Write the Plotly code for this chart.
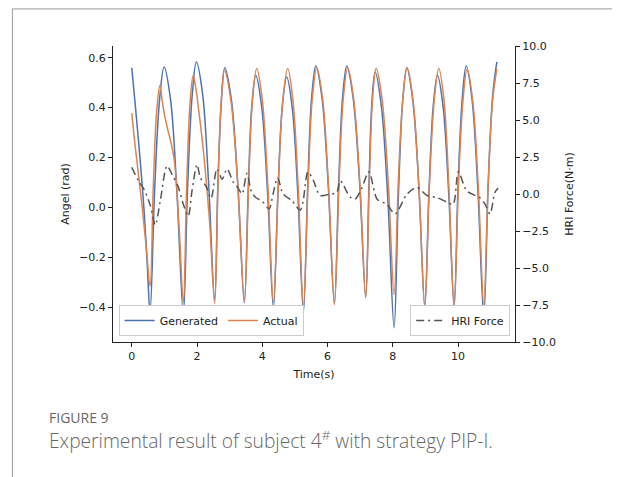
import plotly.graph_objects as go

# ---------------- data ----------------
gen_t = [0.00, 0.10, 0.25, 0.37, 0.47, 0.56,
         0.70, 0.85, 0.99, 1.19, 1.38, 1.58,
         1.71, 1.85, 1.98, 2.17, 2.35, 2.54,
         2.64, 2.75, 2.85, 3.05, 3.25, 3.45,
         3.57, 3.68, 3.80, 3.98, 4.16, 4.34,
         4.48, 4.61, 4.75, 4.92, 5.09, 5.26,
         5.39, 5.51, 5.64, 5.83, 6.02, 6.21,
         6.34, 6.46, 6.59, 6.78, 6.98, 7.17,
         7.27, 7.36, 7.46, 7.65, 7.85, 8.04,
         8.17, 8.30, 8.43, 8.61, 8.80, 8.98,
         9.11, 9.24, 9.37, 9.54, 9.71, 9.88,
         10.00, 10.13, 10.25, 10.43, 10.61, 10.79,
         10.92, 11.06, 11.19]
gen_v = [0.56, 0.42, 0.20, 0.00, -0.22, -0.42,
         0.07, 0.43, 0.563, 0.43, 0.068, -0.427,
         0.078, 0.448, 0.583, 0.455, 0.107, -0.37,
         0.095, 0.435, 0.56, 0.434, 0.089, -0.383,
         0.074, 0.408, 0.53, 0.405, 0.064, -0.403,
         0.06, 0.399, 0.523, 0.397, 0.052, -0.42,
         0.074, 0.435, 0.567, 0.439, 0.091, -0.385,
         0.091, 0.439, 0.567, 0.443, 0.104, -0.36,
         0.092, 0.422, 0.543, 0.405, 0.03, -0.483,
         0.039, 0.42, 0.56, 0.432, 0.083, -0.395,
         0.068, 0.406, 0.53, 0.406, 0.067, -0.397,
         0.085, 0.438, 0.567, 0.432, 0.065, -0.437,
         0.073, 0.446, 0.583]

act_t = [0.00, 0.10, 0.32, 0.45, 0.56,
         0.66, 0.76, 0.86, 0.93, 0.99, 1.07, 1.29, 1.45, 1.58,
         1.68, 1.78, 1.88, 1.96, 2.07, 2.20, 2.38, 2.54,
         2.64, 2.74, 2.84, 3.04, 3.25, 3.45,
         3.58, 3.70, 3.83, 4.00, 4.17, 4.34,
         4.49, 4.63, 4.78, 4.94, 5.10, 5.26,
         5.40, 5.53, 5.67, 5.85, 6.03, 6.21,
         6.35, 6.48, 6.62, 6.80, 6.99, 7.17,
         7.28, 7.38, 7.49, 7.67, 7.86, 8.04,
         8.17, 8.31, 8.44, 8.62, 8.80, 8.98,
         9.12, 9.27, 9.41, 9.57, 9.72, 9.88,
         10.01, 10.15, 10.28, 10.45, 10.62, 10.79,
         10.92, 11.06, 11.19]
act_v = [0.378, 0.25, 0.00, -0.17, -0.317,
         0.087, 0.382, 0.49, 0.43, 0.38, 0.33, 0.20, -0.08, -0.383,
         0.074, 0.408, 0.53, 0.48, 0.37, 0.22, -0.05, -0.387,
         0.081, 0.424, 0.55, 0.426, 0.088, -0.374,
         0.092, 0.432, 0.557, 0.431, 0.087, -0.383,
         0.087, 0.431, 0.557, 0.429, 0.08, -0.397,
         0.082, 0.432, 0.56, 0.433, 0.085, -0.39,
         0.085, 0.433, 0.56, 0.436, 0.099, -0.363,
         0.098, 0.435, 0.558, 0.436, 0.104, -0.35,
         0.105, 0.438, 0.56, 0.431, 0.08, -0.40,
         0.079, 0.429, 0.557, 0.429, 0.08, -0.397,
         0.079, 0.427, 0.554, 0.428, 0.082, -0.39,
         0.083, 0.428, 0.555]

hri_t = [0.00, 0.20, 0.38, 0.57, 0.72, 0.87, 1.08, 1.24, 1.42, 1.58,
         1.73, 1.85, 2.00, 2.10, 2.28, 2.43, 2.61, 2.77, 2.92, 3.11,
         3.26, 3.38, 3.53, 3.66, 3.78, 4.00, 4.21, 4.33, 4.47, 4.64,
         4.91, 5.16, 5.25, 5.40, 5.57, 5.77, 6.08, 6.28, 6.39, 6.69,
         6.84, 7.03, 7.27, 7.52, 7.82, 8.07, 8.44, 8.74, 9.05, 9.36,
         9.66, 9.85, 10.01, 10.27, 10.67, 10.83, 10.98, 11.13, 11.23]
hri_f = [1.8, 0.9, 0.3, -0.8, -2.1, -0.5, 1.9, 1.3, 0.5, -0.7,
         -1.5, 0.3, 2.0, 1.1, 0.5, -0.3, 1.7, 1.0, 1.7, 0.8,
         0.4, 0.0, 1.4, 0.2, -0.2, -0.5, -1.0, 0.0, 1.1, 0.0,
         -0.45, -1.1, -0.5, 1.5, 0.9, -0.1, 0.0, 0.1, 0.9, -0.2,
         -0.35, 0.3, 1.5, -0.35, -0.7, -1.35, 0.0, 0.45, -0.1, -0.25,
         -0.55, -0.7, 1.5, 0.2, -0.25, -0.7, -1.35, 0.1, 0.4]

x_ticks = [0, 2, 4, 6, 8, 10]
left_ticks = [-0.4, -0.2, 0.0, 0.2, 0.4, 0.6]
right_ticks = [-10, -7.5, -5, -2.5, 0, 2.5, 5, 7.5, 10]

BLUE = "#4C72B0"
ORANGE = "#DD8452"
GRAY = "#555555"
INK = "#222222"

fig = go.Figure()
fig.add_trace(go.Scatter(x=gen_t, y=gen_v, name="Generated", mode="lines",
                         line=dict(color=BLUE, width=1.5, shape="spline", smoothing=1.0),
                         legend="legend"))
fig.add_trace(go.Scatter(x=act_t, y=act_v, name="Actual", mode="lines",
                         line=dict(color=ORANGE, width=1.5, shape="spline", smoothing=1.0),
                         legend="legend"))
fig.add_trace(go.Scatter(x=hri_t, y=hri_f, name="HRI Force", mode="lines", yaxis="y2",
                         line=dict(color=GRAY, width=1.5, shape="spline", smoothing=0.8,
                                   dash="8px,4px,2px,4px"),
                         legend="legend2"))

axis_common = dict(ticks="outside", ticklen=4, tickwidth=1, tickcolor=INK,
                   showline=True, linecolor=INK, linewidth=1.2,
                   showgrid=False, zeroline=False,
                   tickfont=dict(family="DejaVu Sans", size=11, color=INK))

# page body adds an 8px offset; figure is sized so it ends at the window edge
fig.update_layout(
    width=615, height=469,
    margin=dict(l=104.7, r=108, t=37.7, b=134.5, autoexpand=False),
    paper_bgcolor="white", plot_bgcolor="white",
    font=dict(family="DejaVu Sans", size=11, color=INK),
    xaxis=dict(range=[-0.576, 11.746], tickvals=x_ticks,
               title=dict(text="Time(s)", standoff=8, font=dict(size=11)),
               **axis_common),
    yaxis=dict(range=[-0.54, 0.647], tickvals=left_ticks, tickformat=".1f",
               title=dict(text="Angel (rad)", standoff=7, font=dict(size=11)),
               **axis_common),
    yaxis2=dict(range=[-10, 10], tickvals=right_ticks, tickformat=".1f",
                overlaying="y", side="right",
                title=dict(text="HRI Force(N·m)", standoff=10, font=dict(size=11)),
                **axis_common),
    legend=dict(orientation="h", x=0.014, y=0.02, xanchor="left", yanchor="bottom",
                bgcolor="white", bordercolor="#cccccc", borderwidth=1,
                font=dict(size=11, color=INK)),
    legend2=dict(orientation="h", x=0.988, y=0.02, xanchor="right", yanchor="bottom",
                 bgcolor="white", bordercolor="#cccccc", borderwidth=1,
                 font=dict(size=11, color=INK)),
    annotations=[
        dict(text="FIGURE 9", xref="paper", yref="paper", x=-0.1633, y=-0.2544,
             xanchor="left", yanchor="middle", showarrow=False,
             font=dict(family="Open Sans", size=14, color="#666666")),
        dict(text="Experimental result of subject 4<sup>#</sup> with strategy PIP-I.",
             xref="paper", yref="paper", x=-0.1633, y=-0.332,
             xanchor="left", yanchor="middle", showarrow=False,
             font=dict(family="Open Sans", size=19.2, color="#666666", weight=300)),
    ],
    shapes=[
        dict(type="line", xref="paper", yref="paper", x0=-0.2503, x1=-0.2503,
             y0=1.1253, y1=-0.46, line=dict(color="#999999", width=1)),
        dict(type="line", xref="paper", yref="paper", x0=-0.2503, x1=1.2411,
             y0=1.1253, y1=1.1253, line=dict(color="#999999", width=1)),
    ],
)

fig.write_html("out.html")
